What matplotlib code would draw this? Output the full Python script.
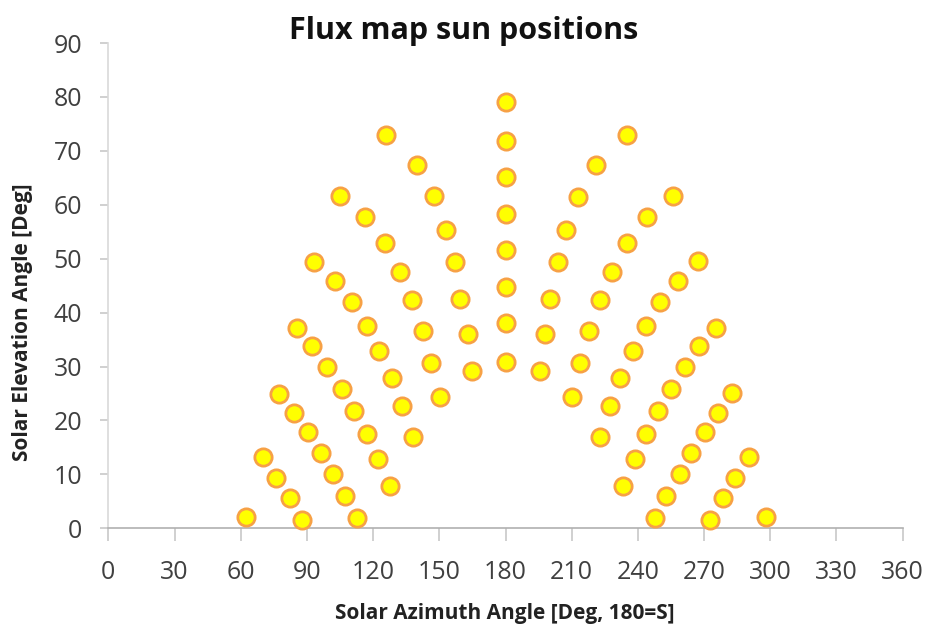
import numpy as np
import matplotlib.pyplot as plt

# Sun positions (azimuth deg, elevation deg)
azimuth_morning = [62.4, 70.2, 76.0, 82.2, 87.6,
                   77.5, 84.3, 90.4, 96.3, 101.7, 107.3, 112.6,
                   85.4, 92.4, 99.2, 105.8, 111.2, 117.1, 122.1, 127.7,
                   93.4, 102.7, 110.3, 117.1, 122.5, 128.6, 133.1, 138.1,
                   104.9, 116.2, 125.4, 132.2, 137.6, 142.5, 146.4, 150.5,
                   125.7, 139.9, 147.5, 153.0, 157.2, 159.4, 163.1, 164.7]
elevation_morning = [2.0, 13.2, 9.3, 5.6, 1.6,
                     24.9, 21.4, 17.9, 14.0, 10.0, 5.9, 1.9,
                     37.1, 33.8, 30.0, 25.8, 21.8, 17.4, 12.9, 7.8,
                     49.4, 45.9, 42.0, 37.5, 32.8, 27.8, 22.6, 16.9,
                     61.6, 57.7, 53.0, 47.6, 42.3, 36.6, 30.6, 24.3,
                     72.9, 67.3, 61.6, 55.3, 49.3, 42.5, 36.0, 29.1]

azimuth_noon = [180, 180, 180, 180, 180, 180, 180, 180]
elevation_noon = [79.0, 71.8, 65.1, 58.2, 51.7, 44.8, 38.1, 30.8]

azimuth_afternoon = [298.0, 290.2, 284.1, 278.4, 272.5,
                     282.6, 276.4, 270.4, 264.1, 259.1, 252.9, 247.6,
                     275.5, 267.8, 261.2, 254.9, 249.2, 243.5, 238.5, 233.1,
                     267.4, 258.0, 250.1, 243.5, 237.6, 232.0, 227.5, 222.8,
                     255.9, 244.0, 235.2, 228.4, 223.0, 218.0, 213.9, 210.0,
                     234.9, 220.9, 213.0, 207.5, 203.7, 200.3, 197.9, 195.8]
elevation_afternoon = [2.0, 13.2, 9.3, 5.6, 1.6,
                       25.0, 21.4, 17.9, 14.0, 10.0, 5.9, 1.9,
                       37.1, 33.8, 30.0, 25.9, 21.8, 17.4, 12.9, 7.8,
                       49.5, 45.9, 42.0, 37.5, 32.8, 27.8, 22.6, 16.9,
                       61.6, 57.7, 53.0, 47.6, 42.3, 36.6, 30.6, 24.3,
                       72.9, 67.4, 61.5, 55.3, 49.3, 42.5, 36.0, 29.1]

x_ticks = np.arange(0, 361, 30)
y_ticks = np.arange(0, 91, 10)

plt.rcParams['font.family'] = ['Open Sans', 'DejaVu Sans']

fig = plt.figure(figsize=(9.3, 6.28), dpi=100)
ax = fig.add_axes([0.1165, 0.1588, 0.8541, 0.7727])

az = azimuth_morning + azimuth_noon + azimuth_afternoon
el = elevation_morning + elevation_noon + elevation_afternoon
ax.scatter(az, el, s=155, facecolor='#FFFF00', edgecolor='#F7A145',
           linewidth=2.0, zorder=3, clip_on=False)

ax.set_xlim(0, 360)
ax.set_ylim(0, 90)
ax.set_xticks(x_ticks)
ax.set_yticks(y_ticks)

for s in ['top', 'right']:
    ax.spines[s].set_visible(False)
ax.spines['left'].set_color('#D9D9D9')
ax.spines['bottom'].set_color('#B0B0B0')
ax.spines['left'].set_linewidth(1.2)
ax.spines['bottom'].set_linewidth(1.2)

ax.tick_params(axis='x', direction='out', length=9, width=1.2, color='#C8C8C8',
               pad=14, labelsize=18, labelcolor='#404040')
ax.tick_params(axis='y', direction='out', length=6, width=1.2, color='#C8C8C8',
               pad=13, labelsize=18, labelcolor='#404040')

fig.text(0.4985, 0.951, 'Flux map sun positions', ha='center', va='center',
         fontsize=22, fontweight='bold', color='#111111')
fig.text(0.5425, 0.0223, 'Solar Azimuth Angle [Deg, 180=S]', ha='center',
         va='center', fontsize=15, fontweight='bold', color='#222222')
fig.text(0.0247, 0.487, 'Solar Elevation Angle [Deg]', ha='center',
         va='center', rotation=90, fontsize=15, fontweight='bold',
         color='#222222')

fig.savefig('out.png', dpi=100, facecolor='white')
